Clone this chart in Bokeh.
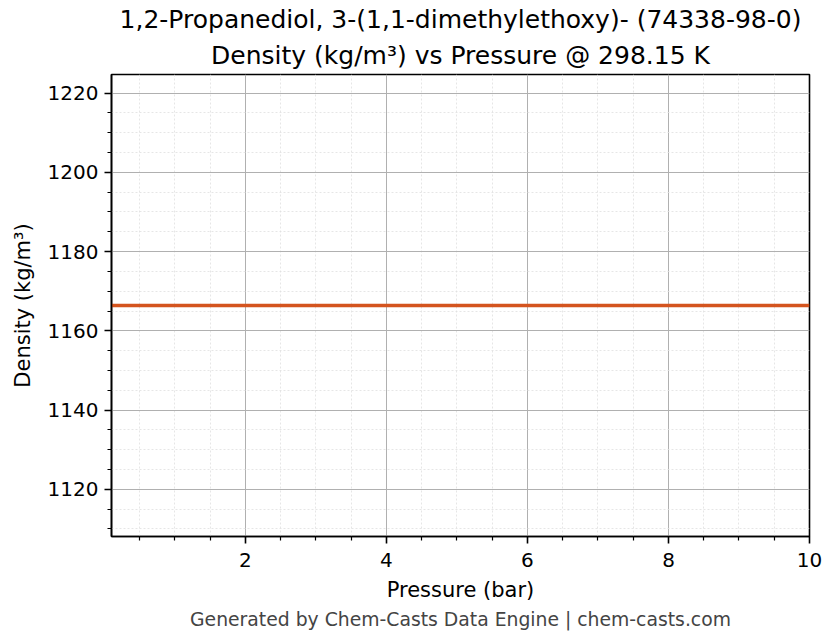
from bokeh.plotting import figure
from bokeh.models import Range1d, FixedTicker, Title
from bokeh.embed import file_html
from bokeh.resources import INLINE

# Data
pressure_bar = [0.1, 1.0, 2.0, 3.0, 4.0, 5.0, 6.0, 7.0, 8.0, 9.0, 10.0]
density_kg_m3 = [1166.4, 1166.4, 1166.4, 1166.4, 1166.4, 1166.4,
                 1166.4, 1166.4, 1166.4, 1166.4, 1166.4]

x_major_ticks = [2, 4, 6, 8, 10]
x_minor_ticks = [0.5, 1.0, 1.5, 2.5, 3.0, 3.5, 4.5, 5.0, 5.5, 6.5, 7.0, 7.5,
                 8.5, 9.0, 9.5]
y_major_ticks = [1120, 1140, 1160, 1180, 1200, 1220]
y_minor_ticks = [1110, 1115, 1125, 1130, 1135, 1145, 1150, 1155, 1165, 1170,
                 1175, 1185, 1190, 1195, 1205, 1210, 1215]

title_line1 = "1,2-Propanediol, 3-(1,1-dimethylethoxy)- (74338-98-0)"
title_line2 = "Density (kg/m³) vs Pressure @ 298.15 K"
x_label = "Pressure (bar)"
y_label = "Density (kg/m³)"
footer_text = "Generated by Chem-Casts Data Engine | chem-casts.com"

FONT = "DejaVu Sans"

p = figure(width=828, height=636, output_backend="svg", toolbar_location=None,
           x_range=Range1d(0.1, 10.0), y_range=Range1d(1108.1, 1224.7),
           min_border_left=111, min_border_right=19, min_border_top=74,
           min_border_bottom=100, title=None)

p.background_fill_color = "white"
p.border_fill_color = "white"
p.outline_line_color = "black"
p.outline_line_width = 1.6
p.outline_line_alpha = 1.0

p.xaxis.ticker = FixedTicker(ticks=x_major_ticks, minor_ticks=x_minor_ticks)
p.yaxis.ticker = FixedTicker(ticks=y_major_ticks, minor_ticks=y_minor_ticks)

for ax in (p.xaxis, p.yaxis):
    ax.axis_line_color = "black"
    ax.axis_line_width = 1.6
    ax.major_tick_line_color = "black"
    ax.major_tick_line_width = 1.6
    ax.minor_tick_line_color = "black"
    ax.minor_tick_line_width = 1.2
    ax.major_tick_out = 7
    ax.major_tick_in = 0
    ax.minor_tick_out = 4
    ax.minor_tick_in = 0
    ax.major_label_text_font = FONT
    ax.major_label_text_font_size = "20px"
    ax.major_label_text_color = "black"
    ax.major_label_standoff = 6
    ax.axis_label_text_font = FONT
    ax.axis_label_text_font_size = "21px"
    ax.axis_label_text_font_style = "normal"
    ax.axis_label_text_color = "black"
    ax.axis_label_standoff = 6

p.xaxis.axis_label = x_label
p.yaxis.axis_label = y_label
p.yaxis.axis_label_standoff = 10
p.xaxis.major_label_standoff = 9
p.xaxis.axis_label_standoff = 8

for g in (p.xgrid, p.ygrid):
    g.grid_line_color = "#b0b0b0"
    g.grid_line_width = 1.0
    g.minor_grid_line_color = "#e0e0e0"
    g.minor_grid_line_width = 0.8
    g.minor_grid_line_dash = "2 2"

p.line(pressure_bar, density_kg_m3, line_color="#d4541e", line_width=3.6)

t2 = Title(text=title_line2, align="center", text_font=FONT,
           text_font_size="25px", text_font_style="normal", text_color="black",
           standoff=10, text_line_height=0.8)
t1 = Title(text=title_line1, align="center", text_font=FONT,
           text_font_size="25px", text_font_style="normal", text_color="black",
           standoff=0, offset=0, text_line_height=0.7)
p.add_layout(t2, "above")
p.add_layout(t1, "above")

footer = Title(text=footer_text, align="center", text_font=FONT,
               text_font_size="18.8px", text_font_style="normal",
               text_color="#444444", standoff=5)
p.add_layout(footer, "below")

open("out.html", "w").write(file_html(p, INLINE))
